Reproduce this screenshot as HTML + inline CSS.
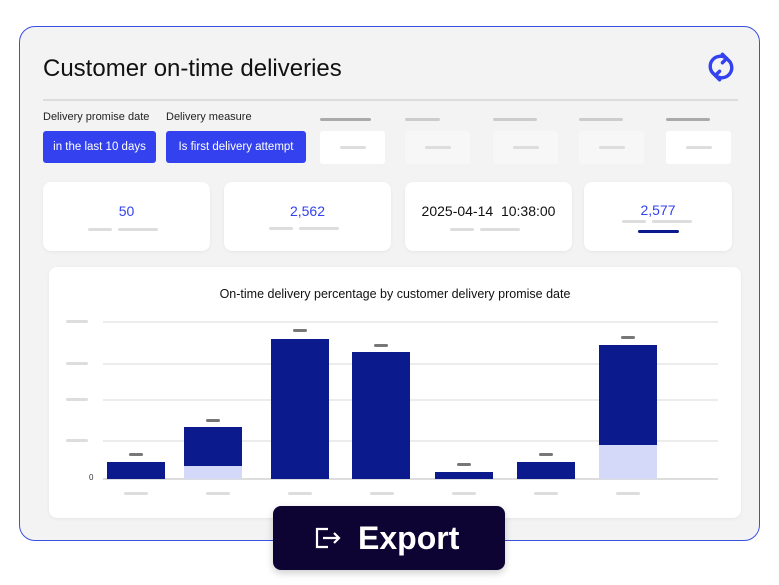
<!DOCTYPE html>
<html><head><style>
body{margin:0;width:779px;height:585px;background:#fff;position:relative;overflow:hidden;font-family:"Liberation Sans",sans-serif;}
.a{position:absolute;}
.ph{position:absolute;height:3px;border-radius:2px;background:#ddd;}
.card{position:absolute;background:#fff;border-radius:8px;box-shadow:0 1px 3px rgba(0,0,0,0.06);}
.btn{position:absolute;background:#3342ee;color:#fff;font-size:11.5px;border-radius:3px;text-align:center;line-height:32px;}
.gb{position:absolute;border-radius:3px;top:131px;height:33px;width:65px;}
.bar{position:absolute;background:#0b1a8c;}
.cap{position:absolute;width:14px;height:3px;border-radius:2px;background:#777;}
.grid{position:absolute;left:103px;width:615px;height:2px;background:#ececec;}
</style></head><body>
<div class="a" style="left:19px;top:26px;width:739px;height:513px;border:1.5px solid #3b4fe0;border-radius:16px;background:#f3f3f3;"></div>
<div class="a" style="left:43px;top:55px;font-size:24px;color:#111;">Customer on-time deliveries</div>
<svg class="a" style="left:704px;top:50px" width="34" height="34" viewBox="0 0 24 24" fill="none" stroke="#3342ee" stroke-width="2.4" stroke-linecap="round"><path d="M7 17a7 7 0 0 1 9-11"/><path d="M13 3l3 3-3 3"/><path d="M17 7a7 7 0 0 1-9 11"/><path d="M11 21l-3-3 3-3"/></svg>
<div class="a" style="left:43px;top:99px;width:695px;height:2px;background:#ddd;"></div>
<div class="a" style="left:43px;top:111px;font-size:11px;color:#222;">Delivery promise date</div>
<div class="a" style="left:166px;top:111px;font-size:11px;color:#222;">Delivery measure</div>
<div class="btn" style="left:43px;top:131px;width:113px;height:32px;">in the last 10 days</div>
<div class="btn" style="left:166px;top:131px;width:140px;height:32px;">Is first delivery attempt</div>
<div class="ph" style="left:320px;top:118px;width:51px;background:#aaa"></div>
<div class="ph" style="left:405px;top:118px;width:35px;background:#ccc"></div>
<div class="ph" style="left:493px;top:118px;width:44px;background:#ccc"></div>
<div class="ph" style="left:579px;top:118px;width:44px;background:#ccc"></div>
<div class="ph" style="left:666px;top:118px;width:44px;background:#aaa"></div>
<div class="gb" style="left:320px;background:#fff"></div><div class="ph" style="left:340px;top:146px;width:26px"></div>
<div class="gb" style="left:405px;background:#f7f7f7"></div><div class="ph" style="left:425px;top:146px;width:26px"></div>
<div class="gb" style="left:493px;background:#f7f7f7"></div><div class="ph" style="left:513px;top:146px;width:26px"></div>
<div class="gb" style="left:579px;background:#f7f7f7"></div><div class="ph" style="left:599px;top:146px;width:26px"></div>
<div class="gb" style="left:666px;background:#fff"></div><div class="ph" style="left:686px;top:146px;width:26px"></div>

<div class="card" style="left:43px;top:182px;width:167px;height:69px;"></div>
<div class="card" style="left:224px;top:182px;width:167px;height:69px;"></div>
<div class="card" style="left:405px;top:182px;width:167px;height:69px;"></div>
<div class="card" style="left:584px;top:182px;width:148px;height:69px;"></div>
<div class="a" style="left:43px;width:167px;top:203px;text-align:center;font-size:14px;color:#3342ee;">50</div>
<div class="a" style="left:224px;width:167px;top:203px;text-align:center;font-size:14px;color:#3342ee;">2,562</div>
<div class="a" style="left:405px;width:167px;top:203px;text-align:center;font-size:14px;color:#111;">2025-04-14&nbsp; 10:38:00</div>
<div class="a" style="left:584px;width:148px;top:202px;text-align:center;font-size:14px;color:#3342ee;">2,577</div>
<div class="ph" style="left:88px;top:228px;width:24px"></div><div class="ph" style="left:118px;top:228px;width:40px"></div>
<div class="ph" style="left:269px;top:227px;width:24px"></div><div class="ph" style="left:299px;top:227px;width:40px"></div>
<div class="ph" style="left:450px;top:228px;width:24px"></div><div class="ph" style="left:480px;top:228px;width:40px"></div>
<div class="ph" style="left:622px;top:220px;width:24px"></div><div class="ph" style="left:652px;top:220px;width:40px"></div>
<div class="a" style="left:638px;top:230px;width:41px;height:3px;background:#0b1a8c;border-radius:2px"></div>

<div class="card" style="left:49px;top:267px;width:692px;height:251px;"></div>
<div class="a" style="left:49px;width:692px;top:287px;text-align:center;font-size:12.5px;color:#111;">On-time delivery percentage by customer delivery promise date</div>
<div class="grid" style="top:321px"></div><div class="grid" style="top:363px"></div><div class="grid" style="top:399px"></div><div class="grid" style="top:440px"></div><div class="grid" style="top:478px;background:#ddd"></div>
<div class="ph" style="left:66px;top:320px;width:22px"></div><div class="ph" style="left:66px;top:362px;width:22px"></div><div class="ph" style="left:66px;top:398px;width:22px"></div><div class="ph" style="left:66px;top:439px;width:22px"></div>
<div class="a" style="left:89px;top:473px;font-size:8px;color:#333">0</div>

<div class="bar" style="left:107px;top:462px;width:58px;height:17px"></div>
<div class="bar" style="left:184px;top:427px;width:58px;height:52px"></div><div class="bar" style="left:184px;top:466px;width:58px;height:13px;background:#d4d9fa"></div>
<div class="bar" style="left:271px;top:339px;width:58px;height:140px"></div>
<div class="bar" style="left:352px;top:352px;width:58px;height:127px"></div>
<div class="bar" style="left:435px;top:472px;width:58px;height:7px"></div>
<div class="bar" style="left:517px;top:462px;width:58px;height:17px"></div>
<div class="bar" style="left:599px;top:345px;width:58px;height:134px"></div><div class="bar" style="left:599px;top:445px;width:58px;height:34px;background:#d4d9fa"></div>
<div class="cap" style="left:129px;top:453px"></div><div class="cap" style="left:206px;top:419px"></div><div class="cap" style="left:293px;top:329px"></div><div class="cap" style="left:374px;top:344px"></div><div class="cap" style="left:457px;top:463px"></div><div class="cap" style="left:539px;top:453px"></div><div class="cap" style="left:621px;top:336px"></div>
<div class="ph" style="left:124px;top:492px;width:24px"></div><div class="ph" style="left:206px;top:492px;width:24px"></div><div class="ph" style="left:288px;top:492px;width:24px"></div><div class="ph" style="left:370px;top:492px;width:24px"></div><div class="ph" style="left:452px;top:492px;width:24px"></div><div class="ph" style="left:534px;top:492px;width:24px"></div><div class="ph" style="left:616px;top:492px;width:24px"></div>

<div class="a" style="left:273px;top:506px;width:232px;height:64px;background:#0e0433;border-radius:8px;box-shadow:0 3px 8px rgba(0,0,0,0.2)"></div>
<svg class="a" style="left:314px;top:526px" width="28" height="24" viewBox="0 0 28 24" fill="none" stroke="#fff" stroke-width="2.2"><path d="M14 3H3v18h11"/><path d="M9 12h16M20 7l5 5-5 5"/></svg>
<div class="a" style="left:358px;top:520px;font-size:32px;color:#fff;font-weight:bold;">Export</div>
</body></html>
